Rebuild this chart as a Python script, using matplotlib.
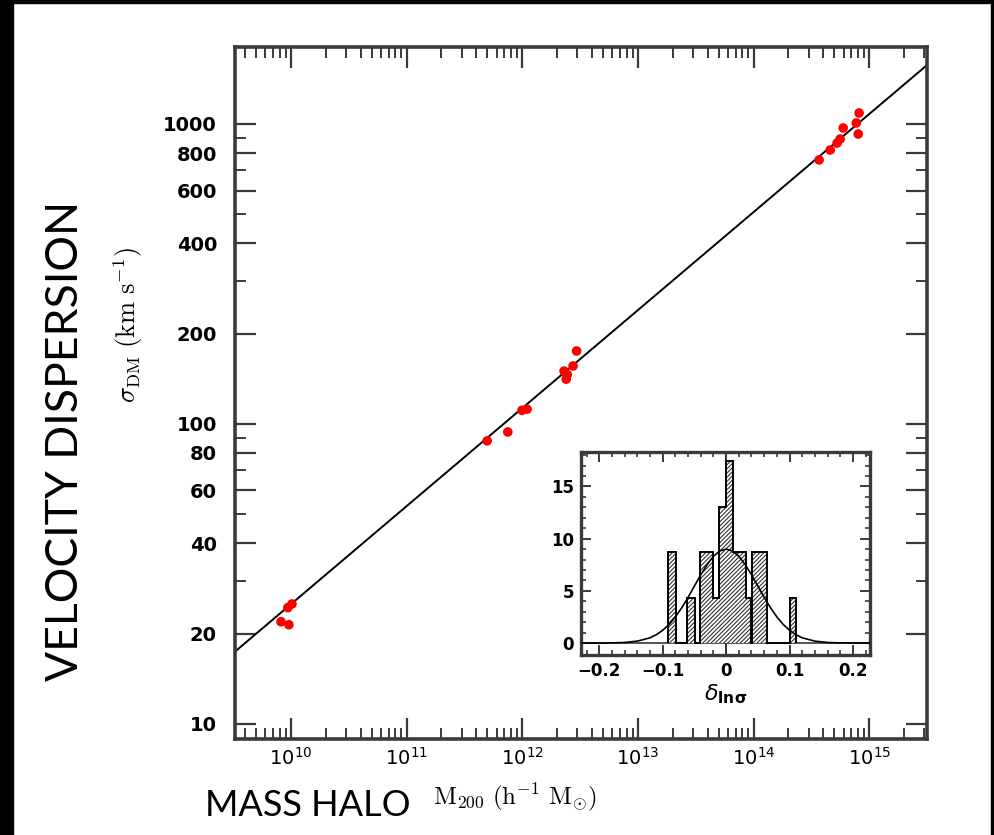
import numpy as np
import matplotlib.pyplot as plt
from matplotlib.patches import Rectangle
from matplotlib.ticker import FixedLocator, NullFormatter

# halo mass (h^-1 Msun) and DM velocity dispersion (km/s)
mass_low = [8.2e9, 9.6e9, 9.4e9, 1.02e10]
sigma_low = [21.9, 21.4, 24.4, 25.1]
mass_mid = [4.97e11, 7.5e11, 9.95e11, 1.1e12, 2.3e12, 2.4e12, 2.75e12, 2.95e12, 2.45e12]
sigma_mid = [87.8, 94, 111, 112, 150, 141, 156, 175, 146]
mass_high = [3.69e14, 4.6e14, 5.28e14, 5.61e14, 5.96e14, 7.73e14, 8.18e14, 8.04e14]
sigma_high = [759, 819, 864, 891, 970, 1008, 1088, 926]

# fitted relation, end points
fit_mass = [10**9.5, 10**15.5]
fit_sigma = [17.2, 1572]

y_major = [10, 20, 40, 60, 80, 100, 200, 400, 600, 800, 1000]
y_minor = [30, 50, 70, 90, 300, 500, 700, 900]
x_major = [1e10, 1e11, 1e12, 1e13, 1e14, 1e15]

# inset histogram of residuals
bin_lo = [-0.091, -0.061, -0.042, -0.0315, -0.021, -0.0105, 0.0, 0.0105, 0.021, 0.0315, 0.041, 0.0525, 0.100]
bin_hi = [-0.079, -0.0495, -0.0315, -0.021, -0.0105, 0.0, 0.0105, 0.021, 0.0315, 0.0395, 0.0525, 0.064, 0.111]
bin_height = [8.7, 4.35, 8.7, 8.7, 4.35, 13.05, 17.4, 8.7, 8.7, 4.35, 8.7, 8.7, 4.35]

gauss_x = [-0.23, -0.2, -0.18, -0.16, -0.14, -0.12, -0.11, -0.1, -0.09, -0.08, -0.07, -0.06, -0.05,
           -0.04, -0.03, -0.02, -0.01, 0.0, 0.01, 0.02, 0.03, 0.04, 0.05, 0.06, 0.07, 0.08, 0.09,
           0.1, 0.11, 0.12, 0.14, 0.16, 0.18, 0.2, 0.23]
gauss_y = [0.0, 0.0, 0.01, 0.05, 0.18, 0.5, 0.8, 1.22, 1.78, 2.5, 3.38, 4.38, 5.46,
           6.54, 7.52, 8.31, 8.82, 9.0, 8.82, 8.31, 7.52, 6.54, 5.46, 4.38, 3.38, 2.5, 1.78,
           1.22, 0.8, 0.5, 0.18, 0.05, 0.01, 0.0, 0.0]

W, H = 994, 835
fig = plt.figure(figsize=(W / 100, H / 100), dpi=100)

# black frame strips of the screenshot
for x0, y0, w, h in [(0, 0, 13, H), (0, H - 3, W, 3), (W - 3, 0, 3, H)]:
    fig.patches.append(Rectangle((x0 / W, y0 / H), w / W, h / H, transform=fig.transFigure,
                                 color='black', zorder=10))

spine_col = '#3a3a3a'

ax = fig.add_axes([235 / W, 1 - 739 / H, (927 - 235) / W, (739 - 47) / H])
ax.set_xscale('log')
ax.set_yscale('log')
ax.plot(fit_mass, fit_sigma, color='black', lw=1.4, zorder=2)
for m, s in [(mass_low, sigma_low), (mass_mid, sigma_mid), (mass_high, sigma_high)]:
    ax.scatter(m, s, s=48, color='red', edgecolors='none', zorder=3)
ax.set_xlim(10**9.516, 10**15.5)
ax.set_ylim(8.9, 1806)

ax.yaxis.set_major_locator(FixedLocator(y_major))
ax.yaxis.set_minor_locator(FixedLocator(y_minor))
ax.set_yticklabels([str(v) for v in y_major])
ax.yaxis.set_minor_formatter(NullFormatter())
ax.xaxis.set_major_locator(FixedLocator(x_major))
ax.set_xticklabels([r'$10^{%d}$' % int(np.log10(v)) for v in x_major])
ax.xaxis.set_minor_locator(FixedLocator([k * 10.0**n for n in range(9, 16) for k in range(2, 10)]))
ax.xaxis.set_minor_formatter(NullFormatter())

ax.tick_params(which='both', direction='in', top=True, right=True, color=spine_col)
ax.tick_params(which='major', length=15, width=1.6)
ax.tick_params(which='minor', length=8, width=1.4)
ax.tick_params(axis='y', labelsize=14, pad=13)
ax.tick_params(axis='x', labelsize=14, pad=6)
for lab in ax.get_yticklabels():
    lab.set_fontweight('bold')
for sp in ax.spines.values():
    sp.set_linewidth(2.6)
    sp.set_color(spine_col)

fig.text(128 / W, 1 - 325 / H, r'$\sigma_{\rm DM}\ (\mathrm{km\ s}^{-1})$', rotation=90,
         ha='center', va='center', fontsize=19, math_fontfamily='cm')
fig.text(433 / W, 1 - 797 / H, r'$\mathrm{M}_{200}\ (\mathrm{h}^{-1}\ \mathrm{M}_{\odot})$',
         ha='left', va='center', fontsize=18, math_fontfamily='cm')
fig.text(66 / W, 1 - 441 / H, 'VELOCITY DISPERSION', rotation=90, ha='center', va='center',
         fontsize=32, family='Lato')
fig.text(205 / W, 1 - 806 / H, 'MASS HALO', ha='left', va='center', fontsize=26, family='Lato')

# inset
ax2 = fig.add_axes([581 / W, 1 - 655 / H, (870 - 581) / W, (655 - 452) / H])
ax2.axvline(0, color='black', lw=1.2, zorder=1)
ax2.axhline(0, color='#555555', lw=1.4, zorder=1)
plt.rcParams['hatch.linewidth'] = 0.8
widths = np.array(bin_hi) - np.array(bin_lo)
ax2.bar(bin_lo, bin_height, width=widths, align='edge', facecolor='white',
        edgecolor='#333333', hatch='////////', lw=0, zorder=2)
# outline of the histogram
edges, vals = [bin_lo[0]], []
for lo, hi, h in zip(bin_lo, bin_hi, bin_height):
    if lo > edges[-1] + 1e-9:
        vals.append(0)
        edges.append(lo)
    vals.append(h)
    edges.append(hi)
ax2.stairs(vals, edges, color='black', lw=1.4, zorder=3)
ax2.plot(gauss_x, gauss_y, color='black', lw=1.2, zorder=4)
ax2.set_xlim(-0.229, 0.227)
ax2.set_ylim(-1.15, 18.3)
ax2.set_xticks([-0.2, -0.1, 0, 0.1, 0.2])
ax2.set_xticklabels(['\u22120.2', '\u22120.1', '0', '0.1', '0.2'])
ax2.set_xticks(np.arange(-0.22, 0.23, 0.02), minor=True)
ax2.set_yticks([0, 5, 10, 15])
ax2.set_yticks(np.arange(0, 19, 1), minor=True)
ax2.tick_params(which='both', direction='in', top=True, right=True, color=spine_col)
ax2.tick_params(which='major', length=7, width=1.4, labelsize=12, pad=5)
ax2.tick_params(which='minor', length=3.5, width=1.2)
for lab in ax2.get_xticklabels() + ax2.get_yticklabels():
    lab.set_fontweight('bold')
for sp in ax2.spines.values():
    sp.set_linewidth(2.4)
    sp.set_color(spine_col)
ax2.set_xlabel(r'$\delta_{\mathbf{ln\sigma}}$', fontsize=16, labelpad=2)

fig.savefig('out.png', dpi=100)
